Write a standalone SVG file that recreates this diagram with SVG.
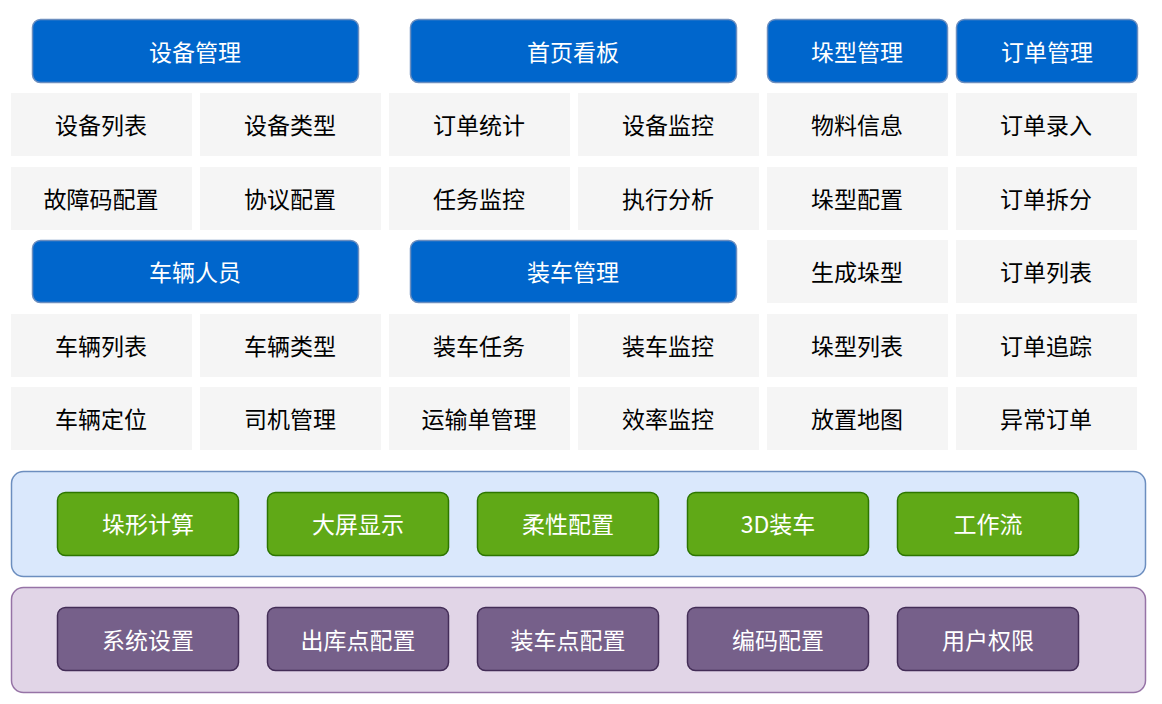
<svg xmlns="http://www.w3.org/2000/svg" width="1162" height="704" viewBox="0 0 1162 704">
<style>
text{font-family:"Noto Sans CJK SC","Liberation Sans",sans-serif;font-size:23px;text-anchor:middle;dominant-baseline:central}
.h rect{fill:#0066cc;stroke:#6c8ebf;stroke-width:1.5}
.h text,.g text,.p text{fill:#fff}
.c rect{fill:#f5f5f5}
.c text{fill:#000}
.g rect{fill:#60a917;stroke:#2d7600;stroke-width:1.5}
.p rect{fill:#76608a;stroke:#432d57;stroke-width:1.5}
</style>
<rect x="11.5" y="471.5" width="1134" height="105" rx="12" fill="#dae8fc" stroke="#6c8ebf" stroke-width="1.5"/>
<rect x="11.5" y="587.5" width="1134" height="105" rx="12" fill="#e1d5e7" stroke="#9673a6" stroke-width="1.5"/>
<g id="h1" class="h"><rect x="32.5" y="19.5" width="326" height="63" rx="8"/><text x="195" y="51">设备管理</text></g>
<g id="h2" class="h"><rect x="410.5" y="19.5" width="326" height="63" rx="8"/><text x="573" y="51">首页看板</text></g>
<g id="h3" class="h"><rect x="767.5" y="19.5" width="180" height="63" rx="8"/><text x="857" y="51">垛型管理</text></g>
<g id="h4" class="h"><rect x="956.5" y="19.5" width="181" height="63" rx="8"/><text x="1047" y="51">订单管理</text></g>
<g id="h5" class="h"><rect x="32.5" y="240.5" width="326" height="62" rx="8"/><text x="195" y="271">车辆人员</text></g>
<g id="h6" class="h"><rect x="410.5" y="240.5" width="326" height="62" rx="8"/><text x="573" y="271">装车管理</text></g>
<g class="c">
<g id="c1"><rect x="11" y="93" width="181" height="63"/><text x="101" y="124">设备列表</text></g>
<g id="c2"><rect x="200" y="93" width="181" height="63"/><text x="290" y="124">设备类型</text></g>
<g id="c3"><rect x="389" y="93" width="181" height="63"/><text x="479" y="124">订单统计</text></g>
<g id="c4"><rect x="578" y="93" width="181" height="63"/><text x="668" y="124">设备监控</text></g>
<g id="c5"><rect x="767" y="93" width="181" height="63"/><text x="857" y="124">物料信息</text></g>
<g id="c6"><rect x="956" y="93" width="181" height="63"/><text x="1046" y="124">订单录入</text></g>
<g id="c7"><rect x="11" y="167" width="181" height="63"/><text x="101" y="198">故障码配置</text></g>
<g id="c8"><rect x="200" y="167" width="181" height="63"/><text x="290" y="198">协议配置</text></g>
<g id="c9"><rect x="389" y="167" width="181" height="63"/><text x="479" y="198">任务监控</text></g>
<g id="c10"><rect x="578" y="167" width="181" height="63"/><text x="668" y="198">执行分析</text></g>
<g id="c11"><rect x="767" y="167" width="181" height="63"/><text x="857" y="198">垛型配置</text></g>
<g id="c12"><rect x="956" y="167" width="181" height="63"/><text x="1046" y="198">订单拆分</text></g>
<g id="c13"><rect x="767" y="240" width="181" height="63"/><text x="857" y="271">生成垛型</text></g>
<g id="c14"><rect x="956" y="240" width="181" height="63"/><text x="1046" y="271">订单列表</text></g>
<g id="c15"><rect x="11" y="314" width="181" height="63"/><text x="101" y="345">车辆列表</text></g>
<g id="c16"><rect x="200" y="314" width="181" height="63"/><text x="290" y="345">车辆类型</text></g>
<g id="c17"><rect x="389" y="314" width="181" height="63"/><text x="479" y="345">装车任务</text></g>
<g id="c18"><rect x="578" y="314" width="181" height="63"/><text x="668" y="345">装车监控</text></g>
<g id="c19"><rect x="767" y="314" width="181" height="63"/><text x="857" y="345">垛型列表</text></g>
<g id="c20"><rect x="956" y="314" width="181" height="63"/><text x="1046" y="345">订单追踪</text></g>
<g id="c21"><rect x="11" y="387" width="181" height="63"/><text x="101" y="418">车辆定位</text></g>
<g id="c22"><rect x="200" y="387" width="181" height="63"/><text x="290" y="418">司机管理</text></g>
<g id="c23"><rect x="389" y="387" width="181" height="63"/><text x="479" y="418">运输单管理</text></g>
<g id="c24"><rect x="578" y="387" width="181" height="63"/><text x="668" y="418">效率监控</text></g>
<g id="c25"><rect x="767" y="387" width="181" height="63"/><text x="857" y="418">放置地图</text></g>
<g id="c26"><rect x="956" y="387" width="181" height="63"/><text x="1046" y="418">异常订单</text></g>
</g>
<g class="g">
<g id="g1"><rect x="57.5" y="492.5" width="181" height="63" rx="8"/><text x="148" y="523">垛形计算</text></g>
<g id="g2"><rect x="267.5" y="492.5" width="181" height="63" rx="8"/><text x="358" y="523">大屏显示</text></g>
<g id="g3"><rect x="477.5" y="492.5" width="181" height="63" rx="8"/><text x="568" y="523">柔性配置</text></g>
<g id="g4"><rect x="687.5" y="492.5" width="181" height="63" rx="8"/><text x="778" y="523">3D装车</text></g>
<g id="g5"><rect x="897.5" y="492.5" width="181" height="63" rx="8"/><text x="988" y="523">工作流</text></g>
</g>
<g class="p">
<g id="p1"><rect x="57.5" y="607.5" width="181" height="63" rx="8"/><text x="148" y="639">系统设置</text></g>
<g id="p2"><rect x="267.5" y="607.5" width="181" height="63" rx="8"/><text x="358" y="639">出库点配置</text></g>
<g id="p3"><rect x="477.5" y="607.5" width="181" height="63" rx="8"/><text x="568" y="639">装车点配置</text></g>
<g id="p4"><rect x="687.5" y="607.5" width="181" height="63" rx="8"/><text x="778" y="639">编码配置</text></g>
<g id="p5"><rect x="897.5" y="607.5" width="181" height="63" rx="8"/><text x="988" y="639">用户权限</text></g>
</g>
<g id="connectors"/>
</svg>
